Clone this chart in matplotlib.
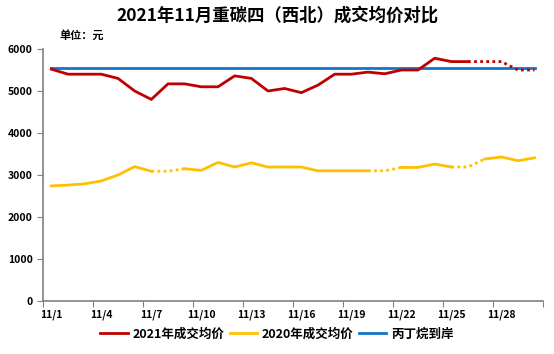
import numpy as np
import matplotlib.pyplot as plt

plt.rcParams['font.family'] = ['Noto Sans CJK SC', 'DejaVu Sans']
plt.rcParams['font.weight'] = 'bold'

# data
dates = ["11/%d" % d for d in range(1, 31)]
price_2021 = [5520, 5400, 5400, 5400, 5300, 5000, 4800, 5170, 5170, 5100,
              5100, 5360, 5300, 5000, 5060, 4960, 5140, 5400, 5400, 5450,
              5410, 5500, 5500, 5780, 5700, 5700, 5700, 5700, 5500, 5500]
price_2020 = [2740, 2760, 2790, 2860, 3000, 3200, 3090, 3090, 3150, 3110,
              3300, 3190, 3290, 3190, 3190, 3190, 3100, 3100, 3100, 3100,
              3100, 3180, 3180, 3260, 3190, 3190, 3380, 3430, 3340, 3410]
arrival = [5550] * 30
# index ranges drawn dotted (estimated / filled points)
dotted_2021 = [(25, 29)]
dotted_2020 = [(6, 8), (19, 21), (24, 26)]

labels = ["2021年成交均价", "2020年成交均价", "丙丁烷到岸"]
colors = ["#C00000", "#FFC000", "#1275C8"]


def draw_series(ax, y, dotted, color, label):
    x = np.arange(len(y))
    y = np.array(y, dtype=float)
    solid = y.copy()
    for a, b in dotted:
        solid[a + 1:b] = np.nan
        ax.plot(x[a:b + 1], y[a:b + 1], color=color, lw=2, linestyle=(0, (1, 1.2)))
    ax.plot(x, solid, color=color, lw=2, label=label)


fig = plt.figure(figsize=(5.54, 3.54), dpi=100)
ax = fig.add_axes([43 / 554, 1 - 301 / 354, 500 / 554, 252 / 354])

ax.plot(np.arange(30), arrival, color=colors[2], lw=2, label=labels[2], zorder=1)
draw_series(ax, price_2021, dotted_2021, colors[0], labels[0])
draw_series(ax, price_2020, dotted_2020, colors[1], labels[1])

ax.set_xlim(-0.5, 29.5)
ax.set_ylim(0, 6000)
ax.set_yticks(range(0, 6001, 1000))
ax.set_xticks(np.arange(-0.5, 30, 3))
ax.set_xticklabels([])
ax.set_xticks(np.arange(0, 30, 3), minor=True)
ax.set_xticklabels(dates[::3], minor=True)
ax.tick_params(axis='x', which='major', length=4, color='#808080')
ax.tick_params(axis='x', which='minor', length=0, pad=6, labelsize=7.5)
ax.tick_params(axis='y', length=4, color='#808080', labelsize=7.5)
for s in ['top', 'right']:
    ax.spines[s].set_visible(False)
for s in ['left', 'bottom']:
    ax.spines[s].set_color('#808080')
    ax.spines[s].set_linewidth(1.2)

fig.text(0.5, 1 - 16 / 354, "2021年11月重碳四（西北）成交均价对比", ha='center', va='center',
         fontsize=12.5, fontweight='bold')
fig.text(59 / 554, 1 - 35 / 354, "单位：元", ha='left', va='center', fontsize=8, fontweight='bold')

h, l = ax.get_legend_handles_labels()
order = [l.index(t) for t in labels]
fig.legend([h[i] for i in order], labels, loc='center', bbox_to_anchor=(0.5, 1 - 334 / 354),
           ncol=3, frameon=False, fontsize=9, handlelength=2.2, columnspacing=0.4, handletextpad=0.4)

plt.savefig("out.png", dpi=100)
